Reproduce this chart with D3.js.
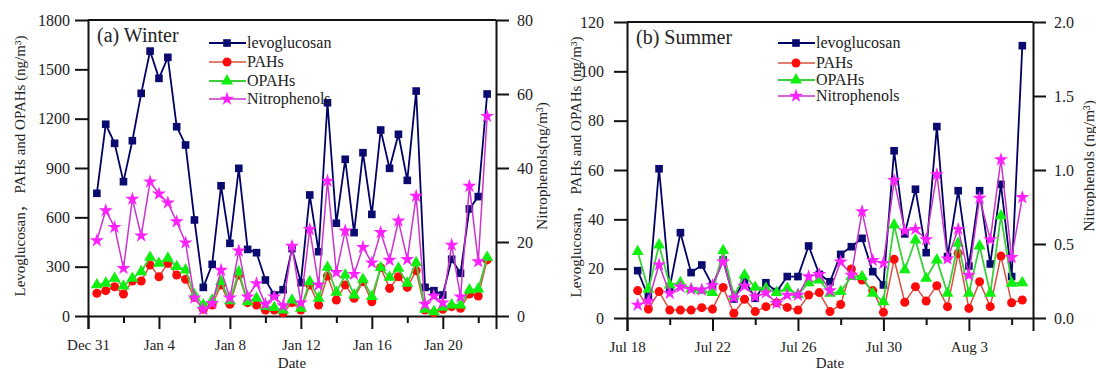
<!DOCTYPE html>
<html><head><meta charset="utf-8">
<script src="https://cdn.jsdelivr.net/npm/d3@7"></script>
<style>
body{margin:0;background:#fff;}
svg text{font-family:"Liberation Serif","Times New Roman",serif !important;fill:#222;}
svg text tspan.cjk{font-family:"Noto Sans CJK SC",sans-serif !important;}
</style></head>
<body><svg id="c" width="1096" height="371"></svg>
<script>
// ---------- data ----------
const winterStart = "2016-12-31T12:00";
const summerStart = "2017-07-18T12:00";
const seriesNames = ["levoglucosan","PAHs","OPAHs","Nitrophenols"];
const winterLevo = [746,1166,1050,817,1066,1354,1611,1445,1573,1151,1040,584,174,314,792,442,898,405,385,219,128,160,410,203,736,391,1297,564,953,507,993,618,1131,898,1105,825,1368,174,154,128,345,260,651,726,1350];
const winterPAH = [138,154,178,134,213,213,310,239,320,249,223,114,41,67,189,71,249,81,67,36,36,20,81,36,189,67,243,97,189,108,209,87,294,168,239,174,276,36,20,41,57,47,134,122,341];
const winterOPAH = [189,199,229,182,229,269,357,320,351,300,280,128,67,97,209,93,269,87,108,57,51,36,97,47,209,108,296,144,249,128,223,118,294,235,290,199,324,41,26,53,67,67,158,164,357];
const winterNitro = [20.4,28.5,24.0,12.9,31.6,21.7,36.3,33.0,30.6,25.5,19.8,4.9,1.8,3.4,12.4,4.9,17.6,5.2,8.8,3.2,5.2,2.8,18.9,3.6,23.4,8.4,36.5,11.8,23.0,11.3,18.6,14.4,22.6,15.1,25.7,15.3,32.4,3.2,5.4,3.6,19.2,5.2,35.1,14.7,54.0];
const summerLevo = [19.2,8.6,60.5,12.4,34.6,18.4,21.5,13.1,23.5,7.7,15.4,8.0,14.3,10.7,16.8,16.8,29.2,17.7,14.7,25.8,28.9,32.3,18.8,13.4,67.8,34.1,52.2,26.5,77.6,24.9,51.6,21.1,51.6,21.9,54.2,16.8,110.4];
const summerPAH = [11.1,3.6,10.7,3.2,3.2,3.2,4.2,3.6,12.4,1.9,7.6,2.6,4.6,6.2,4.3,3.2,9.3,10.3,2.6,5.5,19.9,15.4,11.1,2.3,23.8,6.4,12.7,6.9,13.1,4.6,26.2,3.9,14.7,4.6,25.1,6.2,7.3];
const summerOPAH = [26.9,11.6,29.6,13.4,14.3,11.6,11.1,10.3,27.3,8.9,17.4,12.4,12.0,10.3,12.0,9.5,14.3,15.4,10.0,10.7,16.8,16.8,10.0,6.6,37.7,19.5,31.6,16.1,23.5,10.0,30.3,10.0,29.2,10.0,41.4,14.1,14.3];
const summerNitro = [0.088,0.115,0.36,0.167,0.21,0.194,0.19,0.22,0.38,0.137,0.216,0.144,0.171,0.10,0.155,0.155,0.28,0.295,0.185,0.38,0.29,0.72,0.39,0.37,0.93,0.59,0.60,0.53,0.97,0.40,0.60,0.29,0.81,0.53,1.07,0.41,0.815];
const winterLeftTicks = [0,300,600,900,1200,1500,1800];
const winterRightTicks = [0,20,40,60,80];
const summerLeftTicks = [0,20,40,60,80,100,120];
const summerRightTicks = [0,0.5,1.0,1.5,2.0];
const winterDateTicks = ["2016-12-31","2017-01-02","2017-01-04","2017-01-06","2017-01-08","2017-01-10","2017-01-12","2017-01-14","2017-01-16","2017-01-18","2017-01-20","2017-01-22"];
const summerDateTicks = ["2017-07-18","2017-07-20","2017-07-22","2017-07-24","2017-07-26","2017-07-28","2017-07-30","2017-08-01","2017-08-03","2017-08-05"];

// ---------- styles ----------
const styles = [
  {line:"#000066", fill:"#0a0a70", sym:d3.symbolSquare, size:58, w:1.8},
  {line:"#d9503f", fill:"#ff0a0a", sym:d3.symbolCircle, size:64, w:1.5},
  {line:"#3ccf3c", fill:"#10f010", sym:d3.symbolTriangle, size:62, w:1.8},
  {line:"#cc33cc", fill:"#ff22ff", sym:d3.symbolStar, size:62, w:1.5}
];

const svg = d3.select("#c");
const parse = d3.isoParse;

function panel(o){
  const g = svg.append("g");
  const x = d3.scaleTime().domain([parse(o.dom[0]), parse(o.dom[1])]).range([o.L, o.R]);
  const yl = d3.scaleLinear().domain([0, o.lmax]).range([o.B, o.T]);
  const yr = d3.scaleLinear().domain([0, o.rmax]).range([o.B, o.T]);
  const start = parse(o.start);
  const dates = o.series[0].map((_, i) => d3.timeHour.offset(start, 12*i));

  // axes
  const ax = g.append("g").attr("transform",`translate(0,${o.B})`)
    .call(d3.axisBottom(x).tickValues(o.dateTicks.map(d=>parse(d))).tickSizeOuter(0).tickSize(13).tickPadding(6)
      .tickFormat((d,i)=> i%2===0 ? d3.timeFormat("%b %-d")(d) : ""));
  ax.selectAll(".tick line").attr("y2",(d,i)=> i%2===0?13:7);
  ax.selectAll(".tick text").attr("font-size",15).attr("dy","1.0em");
  const al = g.append("g").attr("transform",`translate(${o.L},0)`)
    .call(d3.axisLeft(yl).tickValues(o.lt).tickSize(13).tickSizeOuter(0).tickPadding(o.lpad).tickFormat(d3.format("d")));
  al.selectAll(".tick text").attr("font-size",16);
  const ar = g.append("g").attr("transform",`translate(${o.R},0)`)
    .call(d3.axisRight(yr).tickValues(o.rt).tickSize(13).tickSizeOuter(0).tickPadding(8).tickFormat(o.rfmt));
  ar.selectAll(".tick text").attr("font-size",16);
  [ax,al,ar].forEach(a=>{a.attr("font-family",null); a.selectAll("path,line").attr("stroke","#111").attr("stroke-width",2); a.selectAll("text").attr("fill","#222");});
  g.append("line").attr("x1",o.L).attr("x2",o.R).attr("y1",o.T).attr("y2",o.T).attr("stroke","#111").attr("stroke-width",2);

  // series
  o.series.forEach((vals, k) => {
    const s = styles[k];
    const y = k===3 ? yr : yl;
    const pts = vals.map((v,i)=>[x(dates[i]), y(v)]);
    g.append("path").attr("d", d3.line()(pts)).attr("fill","none").attr("stroke",s.line).attr("stroke-width",s.w);
    g.selectAll(null).data(pts).enter().append("path")
      .attr("transform",d=>`translate(${d[0]},${d[1]})`)
      .attr("d", d3.symbol().type(s.sym).size(s.size)).attr("fill",s.fill);
  });

  // legend
  seriesNames.forEach((n,k)=>{
    const s = styles[k]; const yy = o.legY[k];
    g.append("line").attr("x1",o.legX).attr("x2",o.legX+37).attr("y1",yy).attr("y2",yy).attr("stroke",s.line).attr("stroke-width",s.w);
    g.append("path").attr("transform",`translate(${o.legX+18},${yy})`).attr("d",d3.symbol().type(s.sym).size(s.size)).attr("fill",s.fill);
    g.append("text").attr("x",o.legX+38).attr("y",yy+5).attr("font-size",16).text(n);
  });

  // labels
  g.append("text").attr("x",o.L+9).attr("y",o.T+22).attr("font-size",20).text(o.label);
  g.append("text").attr("x",o.dateX).attr("y",368).attr("text-anchor","middle").attr("font-size",15).text("Date");
  const lt = g.append("text").attr("transform",`translate(${o.ltX},${o.ltY}) rotate(-90)`).attr("text-anchor","middle").attr("font-size",15);
  lt.append("tspan").text("Levoglucosan");
  lt.append("tspan").attr("class","cjk").text("，");
  lt.append("tspan").text(" PAHs and OPAHs (ng/m³)");
  g.append("text").attr("transform",`translate(${o.rtX},${o.rtY}) rotate(-90)`).attr("text-anchor","middle").attr("font-size",15.5)
    .text(o.rtitle);
}

panel({L:88,R:496,T:20,B:316,dom:["2016-12-31","2017-01-23"],start:winterStart,
  series:[winterLevo,winterPAH,winterOPAH,winterNitro],lmax:1800,rmax:80,lt:winterLeftTicks,rt:winterRightTicks,
  rfmt:d3.format("d"),lpad:5,dateTicks:winterDateTicks,legX:209,legY:[43,62,81,99],label:"(a) Winter",
  dateX:292,ltX:25,ltY:166,rtX:547,rtY:166,rtitle:"Nitrophenols(ng/m³)"});
panel({L:627,R:1033,T:22,B:318,dom:["2017-07-18","2017-08-06"],start:summerStart,
  series:[summerLevo,summerPAH,summerOPAH,summerNitro],lmax:120,rmax:2,lt:summerLeftTicks,rt:summerRightTicks,
  rfmt:d3.format(".1f"),lpad:10,dateTicks:summerDateTicks,legX:778,legY:[43,63,80,96],label:"(b) Summer",
  dateX:830,ltX:581,ltY:167,rtX:1094,rtY:166,rtitle:"Nitrophenols (ng/m³)"});
</script></body></html>
